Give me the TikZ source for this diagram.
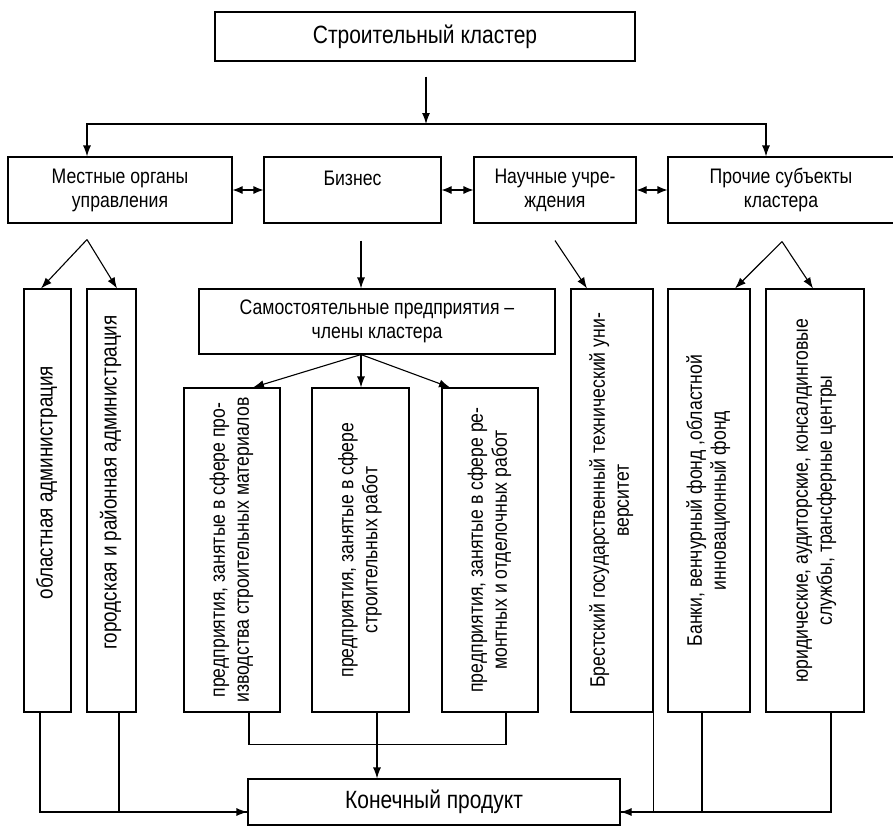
\documentclass[tikz,border=0pt]{standalone}
\usepackage{fontspec}
\setmainfont{Liberation Sans}[FakeStretch=0.84]
\usepackage{graphicx}
\usetikzlibrary{arrows.meta}
\newcommand\vtext[1]{\rotatebox{90}{\begin{tabular}{@{}c@{}}#1\end{tabular}}}
\begin{document}
\begin{tikzpicture}[x=1pt,y=-1pt,line width=1.1pt,
  box/.style={draw, inner sep=0pt, align=center, font=\fontsize{21}{24}\selectfont},
  bigbox/.style={box, font=\fontsize{25}{28}\selectfont},
  admbox/.style={box, font=\fontsize{22.5}{25}\selectfont},
  arr/.style={-{Latex[length=11pt,width=8pt]}},
  darr/.style={{Latex[length=10pt,width=8pt]}-{Latex[length=10pt,width=8pt]}}]
\useasboundingbox (0,0) rectangle (893,827);
\node[bigbox, minimum width=420, minimum height=49] (clu) at (425,36.5) {Строительный кластер};
\node[box, minimum width=224, minimum height=66] (loc) at (120,190) {Местные органы\\управления};
\node[box, minimum width=177, minimum height=66] (biz) at (352.5,190) {Бизнес\\~};
\node[box, minimum width=162, minimum height=66] (sci) at (555,190) {Научные учре-\\ждения};
\node[box, minimum width=226, minimum height=66] (oth) at (781,190) {Прочие субъекты\\кластера};
\node[admbox, minimum width=47, minimum height=423] (obl) at (47.5,500.5) {\vtext{\hspace*{36pt}областная администрация}};
\node[admbox, minimum width=49, minimum height=423] (gor) at (111.5,500.5) {\vtext{\hspace*{36pt}городская и районная администрация}};
\node[box, minimum width=356, minimum height=65] (sam) at (377,321.5) {Самостоятельные предприятия –\\члены кластера};
\node[box, minimum width=96, minimum height=324] (pr1) at (232,550) {\vtext{предприятия, занятые в сфере про-\\изводства строительных материалов}};
\node[box, minimum width=97, minimum height=324] (pr2) at (360.5,550) {\vtext{предприятия, занятые в сфере\\строительных работ}};
\node[box, minimum width=96, minimum height=324] (pr3) at (490,550) {\vtext{предприятия, занятые в сфере ре-\\монтных и отделочных работ}};
\node[box, minimum width=82, minimum height=423] (bru) at (612,500.5) {\vtext{Брестский государственный технический уни-\\верситет}};
\node[box, minimum width=82, minimum height=423] (bank) at (709,500.5) {\vtext{Банки, венчурный фонд ,областной\\инновационный фонд}};
\node[box, minimum width=98, minimum height=423] (jur) at (815,500.5) {\vtext{юридические, аудиторские, консалдинговые\\службы, трансферные центры}};
\node[bigbox, minimum width=372, minimum height=46] (fin) at (434,802) {Конечный продукт};
\coordinate (split) at (426,124);
\draw[arr] ([xshift=1pt,yshift=-15pt]clu.south) -- (split);
\draw[arr] (split) -| ([xshift=-33pt]loc.north);
\draw[arr] (split) -| ([xshift=-15pt]oth.north);
\draw[darr] (loc) -- (biz);
\draw[darr] (biz) -- (sci);
\draw[darr] (sci) -- (oth);
\coordinate (lapex) at ([xshift=-33pt,yshift=-16pt]loc.south);
\draw[arr] (lapex) -- ([xshift=-6.5pt]obl.north);
\draw[arr] (lapex) -- ([xshift=5.5pt]gor.north);
\coordinate (bapex) at ([xshift=8.5pt,yshift=-17pt]biz.south);
\draw[arr] (bapex) -- (bapex |- sam.north);
\coordinate (sapex) at ([xshift=-16pt]sam.south);
\draw[arr] (sapex) -- ([xshift=21pt]pr1.north);
\draw[arr] (sapex) -- (sapex |- pr2.north);
\draw[arr] (sapex) -- ([xshift=-40pt]pr3.north);
\draw[arr] ([yshift=-17pt]sci.south) -- ([xshift=-25pt]bru.north);
\coordinate (rapex) at ([xshift=1pt,yshift=-18pt]oth.south);
\draw[arr] (rapex) -- ([xshift=26pt]bank.north);
\draw[arr] (rapex) -- ([xshift=-2pt]jur.north);
\draw[arr] ([xshift=-7.5pt]obl.south) |- ([yshift=-10pt]fin.west);
\draw ([xshift=7.5pt]gor.south) |- ([yshift=-10pt]fin.west);
\draw ([xshift=17pt]pr1.south) -- ++(0,32) -| ([xshift=16pt]pr3.south);
\draw[arr] ([xshift=16.5pt]pr2.south) -- ([xshift=16.5pt]pr2.south |- fin.north);
\draw[arr] ([xshift=16pt]jur.south) |- ([yshift=-10pt]fin.east);
\draw ([xshift=-7pt]bank.south) |- ([yshift=-10pt]fin.east);
\draw (bru.south east) |- ([yshift=-10pt]fin.east);
\end{tikzpicture}
\end{document}
